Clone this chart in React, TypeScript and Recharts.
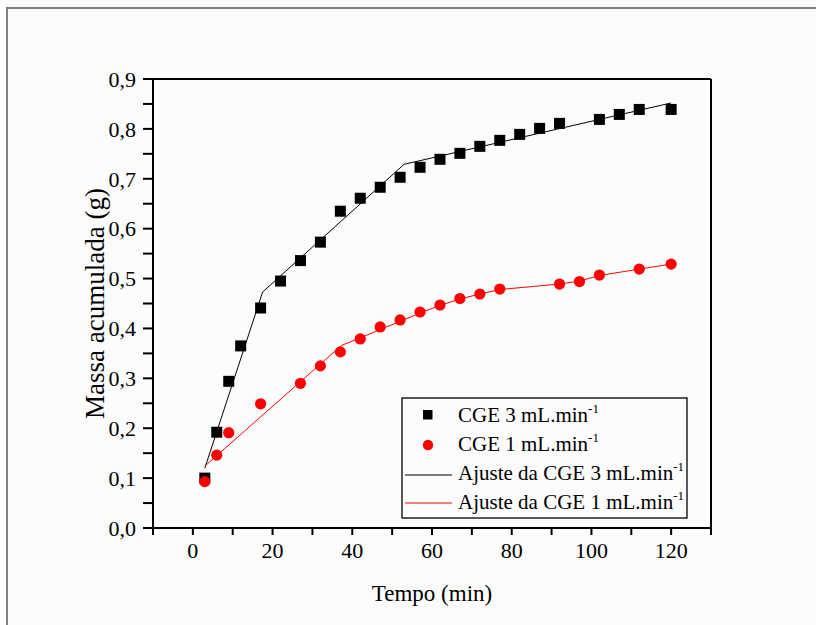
import React from 'react';
import { ComposedChart, Scatter, Line, XAxis, YAxis } from 'recharts';

// Measured points: accumulated mass (g) versus time (min)
const tempo3 = [3, 6, 9, 12, 17, 22, 27, 32, 37, 42, 47, 52, 57, 62, 67, 72, 77, 82, 87, 92, 102, 107, 112, 120];
const massa3 = [0.1, 0.192, 0.294, 0.365, 0.441, 0.495, 0.536, 0.573, 0.635, 0.661, 0.683, 0.703, 0.723, 0.739, 0.751, 0.765, 0.777, 0.789, 0.801, 0.811, 0.819, 0.829, 0.839, 0.839];

const tempo1 = [3, 6, 9, 17, 27, 32, 37, 42, 47, 52, 57, 62, 67, 72, 77, 92, 97, 102, 112, 120];
const massa1 = [0.093, 0.146, 0.191, 0.249, 0.29, 0.325, 0.353, 0.379, 0.403, 0.417, 0.433, 0.447, 0.46, 0.469, 0.479, 0.489, 0.494, 0.507, 0.519, 0.529];

// Fitted curves
const ajusteTempo3 = [3, 17.5, 53, 120];
const ajusteMassa3 = [0.12, 0.473, 0.729, 0.852];

const ajusteTempo1 = [3, 37.3, 42, 47, 52, 57, 62, 67, 72, 77, 92, 97, 102, 112, 120];
const ajusteMassa1 = [0.124, 0.366, 0.381, 0.398, 0.414, 0.431, 0.446, 0.459, 0.469, 0.478, 0.489, 0.495, 0.506, 0.519, 0.529];

// Axis ticks
const xTicks = [-10, 0, 10, 20, 30, 40, 50, 60, 70, 80, 90, 100, 110, 120, 130];
const xTickLabels = [0, 20, 40, 60, 80, 100, 120];
const yTicks = [0, 0.05, 0.1, 0.15, 0.2, 0.25, 0.3, 0.35, 0.4, 0.45, 0.5, 0.55, 0.6, 0.65, 0.7, 0.75, 0.8, 0.85, 0.9];
const yTickLabels = [0, 0.1, 0.2, 0.3, 0.4, 0.5, 0.6, 0.7, 0.8, 0.9];
const frameTicks = [0, 1, 2, 3, 4, 5, 6, 7, 8, 9, 10];

const nomes = ['CGE 3 mL.min', 'CGE 1 mL.min', 'Ajuste da CGE 3 mL.min', 'Ajuste da CGE 1 mL.min'];
const expoente = '-1';

const toPoints = (xs: number[], ys: number[]) => xs.map((x, i) => ({ x, y: ys[i] }));

const dados3 = toPoints(tempo3, massa3);
const dados1 = toPoints(tempo1, massa1);
const ajuste3 = toPoints(ajusteTempo3, ajusteMassa3);
const ajuste1 = toPoints(ajusteTempo1, ajusteMassa1);

const FONT = '"Liberation Serif", "Times New Roman", serif';

const Quadrado = (p: any) => (
  <rect x={p.cx - 5.5} y={p.cy - 5.5} width={11} height={11} fill="#000" />
);
const Circulo = (p: any) => <circle cx={p.cx} cy={p.cy} r={5.6} fill="#ff0000" />;

const fmtY = (v: number) =>
  yTickLabels.some((t) => Math.abs(t - v) < 1e-9) ? v.toFixed(1).replace('.', ',') : '';
const fmtX = (v: number) => (xTickLabels.includes(v) ? String(v) : '');

const axisLineStyle = { stroke: '#000', strokeWidth: 2 };

const Legenda = () => {
  const rows = [25, 54, 83, 112];
  return (
    <svg
      width={287}
      height={122}
      style={{ position: 'absolute', left: 401, top: 397, overflow: 'visible' }}
    >
      <rect x={1} y={1} width={285} height={120} fill="#fcfcfc" stroke="#000" strokeWidth={1.3} />
      <rect x={22} y={13} width={9.5} height={9.5} fill="#000" />
      <circle cx={27} cy={48} r={5.2} fill="#ff0000" />
      <line x1={4} y1={78} x2={51} y2={78} stroke="#000" strokeWidth={1} />
      <line x1={4} y1={106} x2={51} y2={106} stroke="#ff0000" strokeWidth={1} />
      {nomes.map((n, i) => (
        <text key={n} x={57} y={rows[i]} fontFamily={FONT} fontSize={21} fill="#000">
          {n}
          <tspan dy={-9} fontSize={13}>
            {expoente}
          </tspan>
        </text>
      ))}
    </svg>
  );
};

export default function App() {
  return (
    <div
      style={{
        position: 'fixed',
        left: 0,
        top: 0,
        width: 816,
        height: 625,
        overflow: 'hidden',
        background: '#fcfcfc',
      }}
    >
      <div
        style={{
          position: 'absolute',
          left: 6,
          top: 7,
          width: 900,
          height: 700,
          borderLeft: '2px solid #808080',
          borderTop: '2px solid #808080',
        }}
      />
      <div style={{ position: 'absolute', left: 0, top: 0 }}>
        <ComposedChart
          width={816}
          height={625}
          margin={{ top: 79, right: 105, bottom: 37, left: 93 }}
        >
          <XAxis
            dataKey="x"
            type="number"
            domain={[-10, 130]}
            ticks={xTicks}
            interval={0}
            tickFormatter={fmtX}
            height={60}
            tickSize={7}
            tickMargin={7}
            axisLine={axisLineStyle}
            tickLine={axisLineStyle}
            tick={{ fill: '#000', fontSize: 22, fontFamily: FONT }}
            allowDataOverflow
            label={{
              content: (props: any) => {
                const vb = props.viewBox;
                return (
                  <text
                    x={vb.x + vb.width / 2}
                    y={vb.y + 65}
                    textAnchor="middle"
                    dominantBaseline="central"
                    fontFamily={FONT}
                    fontSize={23}
                    fill="#000"
                  >
                    Tempo (min)
                  </text>
                );
              },
            }}
          />
          <XAxis
            xAxisId="top"
            orientation="top"
            type="number"
            domain={[0, 10]}
            ticks={frameTicks}
            interval={0}
            mirror
            tickSize={8}
            tickFormatter={() => ''}
            axisLine={axisLineStyle}
            tickLine={axisLineStyle}
            height={10}
          />
          <YAxis
            dataKey="y"
            type="number"
            domain={[0, 0.9]}
            ticks={yTicks}
            interval={0}
            tickFormatter={fmtY}
            width={60}
            tickSize={10}
            tickMargin={7}
            axisLine={axisLineStyle}
            tickLine={axisLineStyle}
            tick={{ fill: '#000', fontSize: 22, fontFamily: FONT }}
            allowDataOverflow
            label={{
              content: (props: any) => {
                const vb = props.viewBox;
                const cx = vb.x + 2;
                const cy = vb.y + vb.height / 2;
                return (
                  <text
                    x={cx}
                    y={cy}
                    transform={`rotate(-90 ${cx} ${cy})`}
                    textAnchor="middle"
                    dominantBaseline="central"
                    fontFamily={FONT}
                    fontSize={27}
                    fill="#000"
                  >
                    Massa acumulada (g)
                  </text>
                );
              },
            }}
          />
          <YAxis
            yAxisId="right"
            orientation="right"
            type="number"
            domain={[0, 10]}
            ticks={frameTicks}
            interval={0}
            mirror
            tickSize={8}
            tickFormatter={() => ''}
            axisLine={axisLineStyle}
            tickLine={axisLineStyle}
            width={10}
          />
          <Line
            data={ajuste3}
            dataKey="y"
            type="linear"
            stroke="#000"
            strokeWidth={1}
            dot={false}
            activeDot={false}
            isAnimationActive={false}
          />
          <Line
            data={ajuste1}
            dataKey="y"
            type="linear"
            stroke="#ff0000"
            strokeWidth={1}
            dot={false}
            activeDot={false}
            isAnimationActive={false}
          />
          <Scatter data={dados3} dataKey="y" shape={Quadrado} isAnimationActive={false} />
          <Scatter data={dados1} dataKey="y" shape={Circulo} isAnimationActive={false} />
        </ComposedChart>
      </div>
      <Legenda />
    </div>
  );
}
